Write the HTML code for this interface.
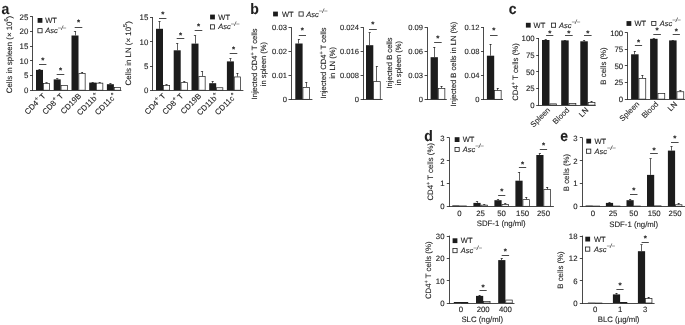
<!DOCTYPE html>
<html><head><meta charset="utf-8"><title>Figure</title>
<style>
html,body{margin:0;padding:0;background:#fff;}
body{width:685px;height:325px;overflow:hidden;}
svg{display:block;}
svg text{text-rendering:geometricPrecision;font-family:"Liberation Sans",Arial,Helvetica,sans-serif;fill:#202020;stroke:#202020;stroke-width:0.1px;}
</style></head><body>
<svg width="685" height="325" viewBox="0 0 685 325">
<rect width="685" height="325" fill="#fff"/>
<text transform="translate(1.60 13.60) scale(1 1.08)" font-size="14" font-weight="bold">a</text>
<text transform="translate(250.20 13.60) scale(1 1.08)" font-size="14" font-weight="bold">b</text>
<text transform="translate(508.80 13.60) scale(1 1.08)" font-size="14" font-weight="bold">c</text>
<text transform="translate(424.20 140.90) scale(1 1.08)" font-size="14" font-weight="bold">d</text>
<text transform="translate(560.20 140.90) scale(1 1.08)" font-size="14" font-weight="bold">e</text>
<line x1="32.50" y1="16.30" x2="32.50" y2="90.60" stroke="#1c1c1c" stroke-width="0.8"/>
<line x1="32.20" y1="90.50" x2="121.40" y2="90.50" stroke="#1c1c1c" stroke-width="0.8"/>
<line x1="30.00" y1="16.50" x2="32.60" y2="16.50" stroke="#1c1c1c" stroke-width="0.8"/>
<text x="28.40" y="19.54" font-size="7.9" text-anchor="end">25</text>
<line x1="30.00" y1="31.50" x2="32.60" y2="31.50" stroke="#1c1c1c" stroke-width="0.8"/>
<text x="28.40" y="34.24" font-size="7.9" text-anchor="end">20</text>
<line x1="30.00" y1="46.50" x2="32.60" y2="46.50" stroke="#1c1c1c" stroke-width="0.8"/>
<text x="28.40" y="48.94" font-size="7.9" text-anchor="end">15</text>
<line x1="30.00" y1="60.50" x2="32.60" y2="60.50" stroke="#1c1c1c" stroke-width="0.8"/>
<text x="28.40" y="63.64" font-size="7.9" text-anchor="end">10</text>
<line x1="30.00" y1="75.50" x2="32.60" y2="75.50" stroke="#1c1c1c" stroke-width="0.8"/>
<text x="28.40" y="78.34" font-size="7.9" text-anchor="end">5</text>
<line x1="30.00" y1="90.50" x2="32.60" y2="90.50" stroke="#1c1c1c" stroke-width="0.8"/>
<text x="28.40" y="93.04" font-size="7.9" text-anchor="end">0</text>
<rect x="36.00" y="69.90" width="7.00" height="20.30" fill="#1c1c1c"/>
<line x1="39.50" y1="69.30" x2="39.50" y2="69.90" stroke="#1c1c1c" stroke-width="0.7"/>
<line x1="38.40" y1="69.50" x2="40.60" y2="69.50" stroke="#1c1c1c" stroke-width="0.7"/>
<rect x="43.35" y="83.55" width="6.30" height="6.65" fill="#fff" stroke="#1c1c1c" stroke-width="0.7"/>
<line x1="46.50" y1="82.80" x2="46.50" y2="83.20" stroke="#1c1c1c" stroke-width="0.7"/>
<line x1="45.40" y1="82.50" x2="47.60" y2="82.50" stroke="#1c1c1c" stroke-width="0.7"/>
<rect x="53.70" y="79.40" width="7.00" height="10.80" fill="#1c1c1c"/>
<line x1="57.50" y1="78.80" x2="57.50" y2="79.40" stroke="#1c1c1c" stroke-width="0.7"/>
<line x1="56.10" y1="78.50" x2="58.30" y2="78.50" stroke="#1c1c1c" stroke-width="0.7"/>
<rect x="61.05" y="85.45" width="6.30" height="4.75" fill="#fff" stroke="#1c1c1c" stroke-width="0.7"/>
<rect x="71.50" y="35.50" width="7.00" height="54.70" fill="#1c1c1c"/>
<line x1="75.50" y1="31.30" x2="75.50" y2="35.50" stroke="#1c1c1c" stroke-width="0.7"/>
<line x1="73.90" y1="31.50" x2="76.10" y2="31.50" stroke="#1c1c1c" stroke-width="0.7"/>
<rect x="78.85" y="73.45" width="6.30" height="16.75" fill="#fff" stroke="#1c1c1c" stroke-width="0.7"/>
<line x1="82.50" y1="72.00" x2="82.50" y2="73.10" stroke="#1c1c1c" stroke-width="0.7"/>
<line x1="80.90" y1="72.50" x2="83.10" y2="72.50" stroke="#1c1c1c" stroke-width="0.7"/>
<rect x="89.20" y="82.60" width="7.00" height="7.60" fill="#1c1c1c"/>
<line x1="92.50" y1="82.10" x2="92.50" y2="82.60" stroke="#1c1c1c" stroke-width="0.7"/>
<line x1="91.60" y1="82.50" x2="93.80" y2="82.50" stroke="#1c1c1c" stroke-width="0.7"/>
<rect x="96.55" y="83.15" width="6.30" height="7.05" fill="#fff" stroke="#1c1c1c" stroke-width="0.7"/>
<line x1="99.50" y1="82.30" x2="99.50" y2="82.80" stroke="#1c1c1c" stroke-width="0.7"/>
<line x1="98.60" y1="82.50" x2="100.80" y2="82.50" stroke="#1c1c1c" stroke-width="0.7"/>
<rect x="106.90" y="84.20" width="7.00" height="6.00" fill="#1c1c1c"/>
<line x1="110.50" y1="83.50" x2="110.50" y2="84.20" stroke="#1c1c1c" stroke-width="0.7"/>
<line x1="109.30" y1="83.50" x2="111.50" y2="83.50" stroke="#1c1c1c" stroke-width="0.7"/>
<rect x="114.25" y="87.55" width="6.30" height="2.65" fill="#fff" stroke="#1c1c1c" stroke-width="0.7"/>
<line x1="39.00" y1="64.50" x2="46.40" y2="64.50" stroke="#1c1c1c" stroke-width="0.8"/>
<text x="42.70" y="63.10" font-size="8.0" text-anchor="middle" font-weight="bold">*</text>
<line x1="56.70" y1="74.50" x2="64.30" y2="74.50" stroke="#1c1c1c" stroke-width="0.8"/>
<text x="60.50" y="73.00" font-size="8.0" text-anchor="middle" font-weight="bold">*</text>
<line x1="74.70" y1="27.50" x2="82.30" y2="27.50" stroke="#1c1c1c" stroke-width="0.8"/>
<text x="78.50" y="25.40" font-size="8.0" text-anchor="middle" font-weight="bold">*</text>
<rect x="37.60" y="18.00" width="4.8" height="4.8" fill="#1c1c1c"/>
<text x="45.20" y="22.90" font-size="7.5" text-anchor="start">WT</text>
<rect x="37.90" y="28.60" width="4.20" height="4.20" fill="#fff" stroke="#1c1c1c" stroke-width="0.8"/>
<text x="45.20" y="33.20" font-size="7.5" text-anchor="start"><tspan font-style="italic">Asc</tspan><tspan dy="-3.60" font-size="6.00" font-style="italic">&#8722;/&#8722;</tspan></text>
<text x="11.54" y="54.50" font-size="7.9" text-anchor="middle" transform="rotate(-90 11.54 54.50)">Cells in spleen (&#215; 10<tspan dy="-3.48" font-size="5.69">6</tspan><tspan dy="3.48" font-size="5.69">&#8203;</tspan>)</text>
<text x="46.20" y="96.50" font-size="7.9" text-anchor="end" transform="rotate(-45 46.20 96.50)">CD4<tspan dy="-3.48" font-size="5.69">+</tspan><tspan dy="3.48" font-size="5.69">&#8203;</tspan> T</text>
<text x="63.90" y="96.50" font-size="7.9" text-anchor="end" transform="rotate(-45 63.90 96.50)">CD8<tspan dy="-3.48" font-size="5.69">+</tspan><tspan dy="3.48" font-size="5.69">&#8203;</tspan> T</text>
<text x="81.70" y="96.50" font-size="7.9" text-anchor="end" transform="rotate(-45 81.70 96.50)">CD19B</text>
<text x="99.40" y="96.50" font-size="7.9" text-anchor="end" transform="rotate(-45 99.40 96.50)">CD11b<tspan dy="-3.48" font-size="5.69">+</tspan><tspan dy="3.48" font-size="5.69">&#8203;</tspan></text>
<text x="117.10" y="96.50" font-size="7.9" text-anchor="end" transform="rotate(-45 117.10 96.50)">CD11c<tspan dy="-3.48" font-size="5.69">+</tspan><tspan dy="3.48" font-size="5.69">&#8203;</tspan></text>
<line x1="152.50" y1="17.10" x2="152.50" y2="90.60" stroke="#1c1c1c" stroke-width="0.8"/>
<line x1="152.20" y1="90.50" x2="243.40" y2="90.50" stroke="#1c1c1c" stroke-width="0.8"/>
<line x1="150.00" y1="17.50" x2="152.60" y2="17.50" stroke="#1c1c1c" stroke-width="0.8"/>
<text x="148.40" y="20.34" font-size="7.9" text-anchor="end">15</text>
<line x1="150.00" y1="41.50" x2="152.60" y2="41.50" stroke="#1c1c1c" stroke-width="0.8"/>
<text x="148.40" y="44.54" font-size="7.9" text-anchor="end">10</text>
<line x1="150.00" y1="66.50" x2="152.60" y2="66.50" stroke="#1c1c1c" stroke-width="0.8"/>
<text x="148.40" y="68.84" font-size="7.9" text-anchor="end">5</text>
<line x1="150.00" y1="90.50" x2="152.60" y2="90.50" stroke="#1c1c1c" stroke-width="0.8"/>
<text x="148.40" y="93.04" font-size="7.9" text-anchor="end">0</text>
<rect x="156.00" y="28.80" width="7.00" height="61.40" fill="#1c1c1c"/>
<line x1="159.50" y1="21.30" x2="159.50" y2="28.80" stroke="#1c1c1c" stroke-width="0.7"/>
<line x1="158.40" y1="21.50" x2="160.60" y2="21.50" stroke="#1c1c1c" stroke-width="0.7"/>
<rect x="163.35" y="85.45" width="6.30" height="4.75" fill="#fff" stroke="#1c1c1c" stroke-width="0.7"/>
<line x1="166.50" y1="84.50" x2="166.50" y2="85.10" stroke="#1c1c1c" stroke-width="0.7"/>
<line x1="165.40" y1="84.50" x2="167.60" y2="84.50" stroke="#1c1c1c" stroke-width="0.7"/>
<rect x="173.70" y="50.30" width="7.00" height="39.90" fill="#1c1c1c"/>
<line x1="177.50" y1="43.30" x2="177.50" y2="50.30" stroke="#1c1c1c" stroke-width="0.7"/>
<line x1="176.10" y1="43.50" x2="178.30" y2="43.50" stroke="#1c1c1c" stroke-width="0.7"/>
<rect x="181.05" y="82.65" width="6.30" height="7.55" fill="#fff" stroke="#1c1c1c" stroke-width="0.7"/>
<line x1="184.50" y1="81.50" x2="184.50" y2="82.30" stroke="#1c1c1c" stroke-width="0.7"/>
<line x1="183.10" y1="81.50" x2="185.30" y2="81.50" stroke="#1c1c1c" stroke-width="0.7"/>
<rect x="191.50" y="43.60" width="7.00" height="46.60" fill="#1c1c1c"/>
<line x1="195.50" y1="35.70" x2="195.50" y2="43.60" stroke="#1c1c1c" stroke-width="0.7"/>
<line x1="193.90" y1="35.50" x2="196.10" y2="35.50" stroke="#1c1c1c" stroke-width="0.7"/>
<rect x="198.85" y="76.55" width="6.30" height="13.65" fill="#fff" stroke="#1c1c1c" stroke-width="0.7"/>
<line x1="202.50" y1="71.30" x2="202.50" y2="76.20" stroke="#1c1c1c" stroke-width="0.7"/>
<line x1="200.90" y1="71.50" x2="203.10" y2="71.50" stroke="#1c1c1c" stroke-width="0.7"/>
<rect x="209.20" y="83.20" width="7.00" height="7.00" fill="#1c1c1c"/>
<line x1="212.50" y1="81.30" x2="212.50" y2="83.20" stroke="#1c1c1c" stroke-width="0.7"/>
<line x1="211.60" y1="81.50" x2="213.80" y2="81.50" stroke="#1c1c1c" stroke-width="0.7"/>
<rect x="216.55" y="87.75" width="6.30" height="2.45" fill="#fff" stroke="#1c1c1c" stroke-width="0.7"/>
<rect x="226.90" y="61.40" width="7.00" height="28.80" fill="#1c1c1c"/>
<line x1="230.50" y1="58.50" x2="230.50" y2="61.40" stroke="#1c1c1c" stroke-width="0.7"/>
<line x1="229.30" y1="58.50" x2="231.50" y2="58.50" stroke="#1c1c1c" stroke-width="0.7"/>
<rect x="234.25" y="76.95" width="6.30" height="13.25" fill="#fff" stroke="#1c1c1c" stroke-width="0.7"/>
<line x1="237.50" y1="73.10" x2="237.50" y2="76.60" stroke="#1c1c1c" stroke-width="0.7"/>
<line x1="236.30" y1="73.50" x2="238.50" y2="73.50" stroke="#1c1c1c" stroke-width="0.7"/>
<line x1="159.00" y1="18.50" x2="166.40" y2="18.50" stroke="#1c1c1c" stroke-width="0.8"/>
<text x="162.70" y="17.30" font-size="8.0" text-anchor="middle" font-weight="bold">*</text>
<line x1="176.70" y1="38.50" x2="184.30" y2="38.50" stroke="#1c1c1c" stroke-width="0.8"/>
<text x="180.50" y="37.80" font-size="8.0" text-anchor="middle" font-weight="bold">*</text>
<line x1="194.70" y1="30.50" x2="202.30" y2="30.50" stroke="#1c1c1c" stroke-width="0.8"/>
<text x="198.50" y="29.00" font-size="8.0" text-anchor="middle" font-weight="bold">*</text>
<line x1="229.70" y1="53.50" x2="237.30" y2="53.50" stroke="#1c1c1c" stroke-width="0.8"/>
<text x="233.50" y="52.40" font-size="8.0" text-anchor="middle" font-weight="bold">*</text>
<rect x="210.10" y="14.60" width="4.8" height="4.8" fill="#1c1c1c"/>
<text x="218.30" y="19.50" font-size="7.5" text-anchor="start">WT</text>
<rect x="210.40" y="24.80" width="4.20" height="4.20" fill="#fff" stroke="#1c1c1c" stroke-width="0.8"/>
<text x="218.30" y="29.40" font-size="7.5" text-anchor="start"><tspan font-style="italic">Asc</tspan><tspan dy="-3.60" font-size="6.00" font-style="italic">&#8722;/&#8722;</tspan></text>
<text x="130.94" y="53.30" font-size="7.9" text-anchor="middle" transform="rotate(-90 130.94 53.30)">Cells in LN (&#215; 10<tspan dy="-3.48" font-size="5.69">5</tspan><tspan dy="3.48" font-size="5.69">&#8203;</tspan>)</text>
<text x="166.20" y="96.50" font-size="7.9" text-anchor="end" transform="rotate(-45 166.20 96.50)">CD4<tspan dy="-3.48" font-size="5.69">+</tspan><tspan dy="3.48" font-size="5.69">&#8203;</tspan> T</text>
<text x="183.90" y="96.50" font-size="7.9" text-anchor="end" transform="rotate(-45 183.90 96.50)">CD8<tspan dy="-3.48" font-size="5.69">+</tspan><tspan dy="3.48" font-size="5.69">&#8203;</tspan> T</text>
<text x="201.70" y="96.50" font-size="7.9" text-anchor="end" transform="rotate(-45 201.70 96.50)">CD19B</text>
<text x="219.40" y="96.50" font-size="7.9" text-anchor="end" transform="rotate(-45 219.40 96.50)">CD11b<tspan dy="-3.48" font-size="5.69">+</tspan><tspan dy="3.48" font-size="5.69">&#8203;</tspan></text>
<text x="237.10" y="96.50" font-size="7.9" text-anchor="end" transform="rotate(-45 237.10 96.50)">CD11c<tspan dy="-3.48" font-size="5.69">+</tspan><tspan dy="3.48" font-size="5.69">&#8203;</tspan></text>
<rect x="273.10" y="11.60" width="4.8" height="4.8" fill="#1c1c1c"/>
<text x="282.00" y="16.50" font-size="7.5" text-anchor="start">WT</text>
<rect x="299.00" y="11.90" width="4.20" height="4.20" fill="#fff" stroke="#1c1c1c" stroke-width="0.8"/>
<text x="306.30" y="16.50" font-size="7.5" text-anchor="start"><tspan font-style="italic">Asc</tspan><tspan dy="-3.60" font-size="6.00" font-style="italic">&#8722;/&#8722;</tspan></text>
<line x1="291.50" y1="27.10" x2="291.50" y2="99.70" stroke="#1c1c1c" stroke-width="0.8"/>
<line x1="290.70" y1="99.50" x2="312.40" y2="99.50" stroke="#1c1c1c" stroke-width="0.8"/>
<line x1="288.50" y1="27.50" x2="291.10" y2="27.50" stroke="#1c1c1c" stroke-width="0.8"/>
<text x="286.90" y="30.24" font-size="7.6" text-anchor="end">0.03</text>
<line x1="288.50" y1="51.50" x2="291.10" y2="51.50" stroke="#1c1c1c" stroke-width="0.8"/>
<text x="286.90" y="54.14" font-size="7.6" text-anchor="end">0.02</text>
<line x1="288.50" y1="75.50" x2="291.10" y2="75.50" stroke="#1c1c1c" stroke-width="0.8"/>
<text x="286.90" y="78.04" font-size="7.6" text-anchor="end">0.01</text>
<line x1="288.50" y1="99.50" x2="291.10" y2="99.50" stroke="#1c1c1c" stroke-width="0.8"/>
<text x="286.90" y="102.04" font-size="7.6" text-anchor="end">0</text>
<rect x="295.30" y="43.50" width="7.30" height="55.80" fill="#1c1c1c"/>
<line x1="298.50" y1="39.30" x2="298.50" y2="43.50" stroke="#1c1c1c" stroke-width="0.7"/>
<line x1="297.85" y1="39.50" x2="300.05" y2="39.50" stroke="#1c1c1c" stroke-width="0.7"/>
<rect x="302.95" y="87.35" width="6.60" height="11.95" fill="#fff" stroke="#1c1c1c" stroke-width="0.7"/>
<line x1="306.50" y1="82.30" x2="306.50" y2="87.00" stroke="#1c1c1c" stroke-width="0.7"/>
<line x1="305.15" y1="82.50" x2="307.35" y2="82.50" stroke="#1c1c1c" stroke-width="0.7"/>
<line x1="298.80" y1="35.50" x2="306.00" y2="35.50" stroke="#1c1c1c" stroke-width="0.8"/>
<text x="302.40" y="33.40" font-size="8.0" text-anchor="middle" font-weight="bold">*</text>
<text x="256.94" y="64.00" font-size="7.6" text-anchor="middle" transform="rotate(-90 256.94 64.00)">Injected CD4<tspan dy="-3.34" font-size="5.47">+</tspan><tspan dy="3.34" font-size="5.47">&#8203;</tspan> T cells</text>
<text x="265.64" y="64.00" font-size="7.6" text-anchor="middle" transform="rotate(-90 265.64 64.00)">in spleen (%)</text>
<line x1="363.50" y1="27.10" x2="363.50" y2="99.70" stroke="#1c1c1c" stroke-width="0.8"/>
<line x1="362.80" y1="99.50" x2="382.60" y2="99.50" stroke="#1c1c1c" stroke-width="0.8"/>
<line x1="360.60" y1="27.50" x2="363.20" y2="27.50" stroke="#1c1c1c" stroke-width="0.8"/>
<text x="359.00" y="30.24" font-size="7.6" text-anchor="end">0.024</text>
<line x1="360.60" y1="51.50" x2="363.20" y2="51.50" stroke="#1c1c1c" stroke-width="0.8"/>
<text x="359.00" y="54.14" font-size="7.6" text-anchor="end">0.016</text>
<line x1="360.60" y1="75.50" x2="363.20" y2="75.50" stroke="#1c1c1c" stroke-width="0.8"/>
<text x="359.00" y="78.04" font-size="7.6" text-anchor="end">0.008</text>
<line x1="360.60" y1="99.50" x2="363.20" y2="99.50" stroke="#1c1c1c" stroke-width="0.8"/>
<text x="359.00" y="102.04" font-size="7.6" text-anchor="end">0</text>
<rect x="366.00" y="45.20" width="7.30" height="54.10" fill="#1c1c1c"/>
<line x1="369.50" y1="32.60" x2="369.50" y2="45.20" stroke="#1c1c1c" stroke-width="0.7"/>
<line x1="368.55" y1="32.50" x2="370.75" y2="32.50" stroke="#1c1c1c" stroke-width="0.7"/>
<rect x="373.65" y="81.65" width="6.60" height="17.65" fill="#fff" stroke="#1c1c1c" stroke-width="0.7"/>
<line x1="376.50" y1="66.10" x2="376.50" y2="81.30" stroke="#1c1c1c" stroke-width="0.7"/>
<line x1="375.85" y1="66.50" x2="378.05" y2="66.50" stroke="#1c1c1c" stroke-width="0.7"/>
<line x1="369.00" y1="29.50" x2="376.80" y2="29.50" stroke="#1c1c1c" stroke-width="0.8"/>
<text x="372.90" y="27.10" font-size="8.0" text-anchor="middle" font-weight="bold">*</text>
<text x="326.24" y="63.00" font-size="7.6" text-anchor="middle" transform="rotate(-90 326.24 63.00)">Injected CD4<tspan dy="-3.34" font-size="5.47">+</tspan><tspan dy="3.34" font-size="5.47">&#8203;</tspan> T cells</text>
<text x="334.94" y="62.80" font-size="7.6" text-anchor="middle" transform="rotate(-90 334.94 62.80)">in LN (%)</text>
<line x1="427.50" y1="27.10" x2="427.50" y2="99.70" stroke="#1c1c1c" stroke-width="0.8"/>
<line x1="426.80" y1="99.50" x2="446.80" y2="99.50" stroke="#1c1c1c" stroke-width="0.8"/>
<line x1="424.60" y1="27.50" x2="427.20" y2="27.50" stroke="#1c1c1c" stroke-width="0.8"/>
<text x="423.00" y="30.24" font-size="7.6" text-anchor="end">0.09</text>
<line x1="424.60" y1="51.50" x2="427.20" y2="51.50" stroke="#1c1c1c" stroke-width="0.8"/>
<text x="423.00" y="54.14" font-size="7.6" text-anchor="end">0.06</text>
<line x1="424.60" y1="75.50" x2="427.20" y2="75.50" stroke="#1c1c1c" stroke-width="0.8"/>
<text x="423.00" y="78.04" font-size="7.6" text-anchor="end">0.03</text>
<line x1="424.60" y1="99.50" x2="427.20" y2="99.50" stroke="#1c1c1c" stroke-width="0.8"/>
<text x="423.00" y="102.04" font-size="7.6" text-anchor="end">0</text>
<rect x="430.60" y="57.20" width="7.30" height="42.10" fill="#1c1c1c"/>
<line x1="434.50" y1="47.00" x2="434.50" y2="57.20" stroke="#1c1c1c" stroke-width="0.7"/>
<line x1="433.15" y1="47.50" x2="435.35" y2="47.50" stroke="#1c1c1c" stroke-width="0.7"/>
<rect x="438.25" y="88.35" width="6.60" height="10.95" fill="#fff" stroke="#1c1c1c" stroke-width="0.7"/>
<line x1="441.50" y1="86.00" x2="441.50" y2="88.00" stroke="#1c1c1c" stroke-width="0.7"/>
<line x1="440.45" y1="86.50" x2="442.65" y2="86.50" stroke="#1c1c1c" stroke-width="0.7"/>
<line x1="434.10" y1="42.50" x2="441.70" y2="42.50" stroke="#1c1c1c" stroke-width="0.8"/>
<text x="437.90" y="40.60" font-size="8.0" text-anchor="middle" font-weight="bold">*</text>
<text x="391.74" y="63.00" font-size="7.6" text-anchor="middle" transform="rotate(-90 391.74 63.00)">Injected B cells</text>
<text x="401.14" y="63.00" font-size="7.6" text-anchor="middle" transform="rotate(-90 401.14 63.00)">in spleen (%)</text>
<line x1="483.50" y1="27.10" x2="483.50" y2="99.70" stroke="#1c1c1c" stroke-width="0.8"/>
<line x1="483.20" y1="99.50" x2="503.00" y2="99.50" stroke="#1c1c1c" stroke-width="0.8"/>
<line x1="481.00" y1="27.50" x2="483.60" y2="27.50" stroke="#1c1c1c" stroke-width="0.8"/>
<text x="479.40" y="30.24" font-size="7.6" text-anchor="end">0.12</text>
<line x1="481.00" y1="51.50" x2="483.60" y2="51.50" stroke="#1c1c1c" stroke-width="0.8"/>
<text x="479.40" y="54.14" font-size="7.6" text-anchor="end">0.08</text>
<line x1="481.00" y1="75.50" x2="483.60" y2="75.50" stroke="#1c1c1c" stroke-width="0.8"/>
<text x="479.40" y="78.04" font-size="7.6" text-anchor="end">0.04</text>
<line x1="481.00" y1="99.50" x2="483.60" y2="99.50" stroke="#1c1c1c" stroke-width="0.8"/>
<text x="479.40" y="102.04" font-size="7.6" text-anchor="end">0</text>
<rect x="486.90" y="55.70" width="7.30" height="43.60" fill="#1c1c1c"/>
<line x1="490.50" y1="44.00" x2="490.50" y2="55.70" stroke="#1c1c1c" stroke-width="0.7"/>
<line x1="489.45" y1="44.50" x2="491.65" y2="44.50" stroke="#1c1c1c" stroke-width="0.7"/>
<rect x="494.55" y="90.55" width="6.60" height="8.75" fill="#fff" stroke="#1c1c1c" stroke-width="0.7"/>
<line x1="497.50" y1="88.00" x2="497.50" y2="90.20" stroke="#1c1c1c" stroke-width="0.7"/>
<line x1="496.75" y1="88.50" x2="498.95" y2="88.50" stroke="#1c1c1c" stroke-width="0.7"/>
<line x1="490.00" y1="35.50" x2="497.60" y2="35.50" stroke="#1c1c1c" stroke-width="0.8"/>
<text x="493.80" y="33.40" font-size="8.0" text-anchor="middle" font-weight="bold">*</text>
<text x="456.34" y="64.00" font-size="7.6" text-anchor="middle" transform="rotate(-90 456.34 64.00)">Injected B cells in LN (%)</text>
<line x1="538.50" y1="38.10" x2="538.50" y2="105.50" stroke="#1c1c1c" stroke-width="0.8"/>
<line x1="538.40" y1="105.50" x2="595.70" y2="105.50" stroke="#1c1c1c" stroke-width="0.8"/>
<line x1="536.20" y1="38.50" x2="538.80" y2="38.50" stroke="#1c1c1c" stroke-width="0.8"/>
<text x="534.60" y="41.31" font-size="7.8" text-anchor="end">100</text>
<line x1="536.20" y1="55.50" x2="538.80" y2="55.50" stroke="#1c1c1c" stroke-width="0.8"/>
<text x="534.60" y="58.01" font-size="7.8" text-anchor="end">75</text>
<line x1="536.20" y1="71.50" x2="538.80" y2="71.50" stroke="#1c1c1c" stroke-width="0.8"/>
<text x="534.60" y="74.61" font-size="7.8" text-anchor="end">50</text>
<line x1="536.20" y1="88.50" x2="538.80" y2="88.50" stroke="#1c1c1c" stroke-width="0.8"/>
<text x="534.60" y="91.21" font-size="7.8" text-anchor="end">25</text>
<line x1="536.20" y1="105.50" x2="538.80" y2="105.50" stroke="#1c1c1c" stroke-width="0.8"/>
<text x="534.60" y="107.91" font-size="7.8" text-anchor="end">0</text>
<rect x="542.00" y="40.00" width="7.50" height="65.10" fill="#1c1c1c"/>
<line x1="545.50" y1="39.60" x2="545.50" y2="40.00" stroke="#1c1c1c" stroke-width="0.7"/>
<line x1="544.65" y1="39.50" x2="546.85" y2="39.50" stroke="#1c1c1c" stroke-width="0.7"/>
<rect x="549.85" y="103.85" width="6.80" height="1.25" fill="#fff" stroke="#1c1c1c" stroke-width="0.7"/>
<rect x="561.20" y="40.40" width="7.50" height="64.70" fill="#1c1c1c"/>
<line x1="564.50" y1="40.00" x2="564.50" y2="40.40" stroke="#1c1c1c" stroke-width="0.7"/>
<line x1="563.85" y1="40.50" x2="566.05" y2="40.50" stroke="#1c1c1c" stroke-width="0.7"/>
<rect x="569.05" y="103.35" width="6.80" height="1.75" fill="#fff" stroke="#1c1c1c" stroke-width="0.7"/>
<rect x="580.30" y="41.30" width="7.50" height="63.80" fill="#1c1c1c"/>
<line x1="584.50" y1="40.50" x2="584.50" y2="41.30" stroke="#1c1c1c" stroke-width="0.7"/>
<line x1="582.95" y1="40.50" x2="585.15" y2="40.50" stroke="#1c1c1c" stroke-width="0.7"/>
<rect x="588.15" y="102.35" width="6.80" height="2.75" fill="#fff" stroke="#1c1c1c" stroke-width="0.7"/>
<line x1="591.50" y1="101.00" x2="591.50" y2="102.00" stroke="#1c1c1c" stroke-width="0.7"/>
<line x1="590.45" y1="101.50" x2="592.65" y2="101.50" stroke="#1c1c1c" stroke-width="0.7"/>
<line x1="546.10" y1="35.50" x2="553.30" y2="35.50" stroke="#1c1c1c" stroke-width="0.8"/>
<text x="549.70" y="35.70" font-size="8.0" text-anchor="middle" font-weight="bold">*</text>
<line x1="565.00" y1="35.50" x2="572.70" y2="35.50" stroke="#1c1c1c" stroke-width="0.8"/>
<text x="568.85" y="35.70" font-size="8.0" text-anchor="middle" font-weight="bold">*</text>
<line x1="584.00" y1="35.50" x2="591.60" y2="35.50" stroke="#1c1c1c" stroke-width="0.8"/>
<text x="587.80" y="35.70" font-size="8.0" text-anchor="middle" font-weight="bold">*</text>
<rect x="525.90" y="22.80" width="4.8" height="4.8" fill="#1c1c1c"/>
<text x="533.60" y="27.70" font-size="7.5" text-anchor="start">WT</text>
<rect x="551.40" y="23.10" width="4.20" height="4.20" fill="#fff" stroke="#1c1c1c" stroke-width="0.8"/>
<text x="559.10" y="27.70" font-size="7.5" text-anchor="start"><tspan font-style="italic">Asc</tspan><tspan dy="-3.60" font-size="6.00" font-style="italic">&#8722;/&#8722;</tspan></text>
<text x="518.31" y="72.00" font-size="7.8" text-anchor="middle" transform="rotate(-90 518.31 72.00)">CD4<tspan dy="-3.43" font-size="5.62">+</tspan><tspan dy="3.43" font-size="5.62">&#8203;</tspan> T cells (%)</text>
<text x="550.70" y="110.60" font-size="7.8" text-anchor="end" transform="rotate(-45 550.70 110.60)">Spleen</text>
<text x="569.90" y="110.60" font-size="7.8" text-anchor="end" transform="rotate(-45 569.90 110.60)">Blood</text>
<text x="589.00" y="110.60" font-size="7.8" text-anchor="end" transform="rotate(-45 589.00 110.60)">LN</text>
<line x1="627.50" y1="32.30" x2="627.50" y2="99.50" stroke="#1c1c1c" stroke-width="0.8"/>
<line x1="627.00" y1="99.50" x2="685.50" y2="99.50" stroke="#1c1c1c" stroke-width="0.8"/>
<line x1="624.80" y1="32.50" x2="627.40" y2="32.50" stroke="#1c1c1c" stroke-width="0.8"/>
<text x="623.20" y="35.51" font-size="7.8" text-anchor="end">100</text>
<line x1="624.80" y1="49.50" x2="627.40" y2="49.50" stroke="#1c1c1c" stroke-width="0.8"/>
<text x="623.20" y="52.11" font-size="7.8" text-anchor="end">75</text>
<line x1="624.80" y1="65.50" x2="627.40" y2="65.50" stroke="#1c1c1c" stroke-width="0.8"/>
<text x="623.20" y="68.71" font-size="7.8" text-anchor="end">50</text>
<line x1="624.80" y1="82.50" x2="627.40" y2="82.50" stroke="#1c1c1c" stroke-width="0.8"/>
<text x="623.20" y="85.31" font-size="7.8" text-anchor="end">25</text>
<line x1="624.80" y1="99.50" x2="627.40" y2="99.50" stroke="#1c1c1c" stroke-width="0.8"/>
<text x="623.20" y="101.91" font-size="7.8" text-anchor="end">0</text>
<rect x="631.10" y="54.30" width="7.50" height="44.80" fill="#1c1c1c"/>
<line x1="634.50" y1="51.10" x2="634.50" y2="54.30" stroke="#1c1c1c" stroke-width="0.7"/>
<line x1="633.75" y1="51.50" x2="635.95" y2="51.50" stroke="#1c1c1c" stroke-width="0.7"/>
<rect x="638.95" y="78.45" width="6.80" height="20.65" fill="#fff" stroke="#1c1c1c" stroke-width="0.7"/>
<line x1="642.50" y1="75.10" x2="642.50" y2="78.10" stroke="#1c1c1c" stroke-width="0.7"/>
<line x1="641.25" y1="75.50" x2="643.45" y2="75.50" stroke="#1c1c1c" stroke-width="0.7"/>
<rect x="650.10" y="38.80" width="7.50" height="60.30" fill="#1c1c1c"/>
<line x1="653.50" y1="38.40" x2="653.50" y2="38.80" stroke="#1c1c1c" stroke-width="0.7"/>
<line x1="652.75" y1="38.50" x2="654.95" y2="38.50" stroke="#1c1c1c" stroke-width="0.7"/>
<rect x="657.95" y="93.55" width="6.80" height="5.55" fill="#fff" stroke="#1c1c1c" stroke-width="0.7"/>
<rect x="669.10" y="40.40" width="7.50" height="58.70" fill="#1c1c1c"/>
<line x1="672.50" y1="40.00" x2="672.50" y2="40.40" stroke="#1c1c1c" stroke-width="0.7"/>
<line x1="671.75" y1="40.50" x2="673.95" y2="40.50" stroke="#1c1c1c" stroke-width="0.7"/>
<rect x="676.95" y="91.75" width="6.80" height="7.35" fill="#fff" stroke="#1c1c1c" stroke-width="0.7"/>
<line x1="680.50" y1="90.40" x2="680.50" y2="91.40" stroke="#1c1c1c" stroke-width="0.7"/>
<line x1="679.25" y1="90.50" x2="681.45" y2="90.50" stroke="#1c1c1c" stroke-width="0.7"/>
<line x1="634.90" y1="45.50" x2="642.10" y2="45.50" stroke="#1c1c1c" stroke-width="0.8"/>
<text x="638.50" y="44.60" font-size="8.0" text-anchor="middle" font-weight="bold">*</text>
<line x1="653.30" y1="34.50" x2="660.90" y2="34.50" stroke="#1c1c1c" stroke-width="0.8"/>
<text x="657.10" y="33.40" font-size="8.0" text-anchor="middle" font-weight="bold">*</text>
<line x1="672.70" y1="34.50" x2="679.90" y2="34.50" stroke="#1c1c1c" stroke-width="0.8"/>
<text x="676.30" y="33.80" font-size="8.0" text-anchor="middle" font-weight="bold">*</text>
<rect x="626.50" y="21.10" width="4.8" height="4.8" fill="#1c1c1c"/>
<text x="634.40" y="26.00" font-size="7.5" text-anchor="start">WT</text>
<rect x="651.70" y="21.40" width="4.20" height="4.20" fill="#fff" stroke="#1c1c1c" stroke-width="0.8"/>
<text x="659.70" y="26.00" font-size="7.5" text-anchor="start"><tspan font-style="italic">Asc</tspan><tspan dy="-3.60" font-size="6.00" font-style="italic">&#8722;/&#8722;</tspan></text>
<text x="605.81" y="66.00" font-size="7.8" text-anchor="middle" transform="rotate(-90 605.81 66.00)">B cells (%)</text>
<text x="639.80" y="104.70" font-size="7.8" text-anchor="end" transform="rotate(-45 639.80 104.70)">Spleen</text>
<text x="658.80" y="104.70" font-size="7.8" text-anchor="end" transform="rotate(-45 658.80 104.70)">Blood</text>
<text x="677.80" y="104.70" font-size="7.8" text-anchor="end" transform="rotate(-45 677.80 104.70)">LN</text>
<line x1="449.50" y1="137.50" x2="449.50" y2="206.70" stroke="#1c1c1c" stroke-width="0.8"/>
<line x1="449.00" y1="206.50" x2="553.90" y2="206.50" stroke="#1c1c1c" stroke-width="0.8"/>
<line x1="446.80" y1="137.50" x2="449.40" y2="137.50" stroke="#1c1c1c" stroke-width="0.8"/>
<text x="444.50" y="140.71" font-size="7.8" text-anchor="end">3</text>
<line x1="446.80" y1="160.50" x2="449.40" y2="160.50" stroke="#1c1c1c" stroke-width="0.8"/>
<text x="444.50" y="163.51" font-size="7.8" text-anchor="end">2</text>
<line x1="446.80" y1="183.50" x2="449.40" y2="183.50" stroke="#1c1c1c" stroke-width="0.8"/>
<text x="444.50" y="186.31" font-size="7.8" text-anchor="end">1</text>
<line x1="446.80" y1="206.50" x2="449.40" y2="206.50" stroke="#1c1c1c" stroke-width="0.8"/>
<text x="444.50" y="209.11" font-size="7.8" text-anchor="end">0</text>
<rect x="452.30" y="205.40" width="7.20" height="0.90" fill="#1c1c1c"/>
<rect x="459.85" y="205.95" width="6.50" height="0.35" fill="#fff" stroke="#1c1c1c" stroke-width="0.7"/>
<text x="459.50" y="215.80" font-size="7.8" text-anchor="middle">0</text>
<rect x="473.40" y="202.90" width="7.20" height="3.40" fill="#1c1c1c"/>
<line x1="477.50" y1="201.60" x2="477.50" y2="202.90" stroke="#1c1c1c" stroke-width="0.7"/>
<line x1="475.90" y1="201.50" x2="478.10" y2="201.50" stroke="#1c1c1c" stroke-width="0.7"/>
<rect x="480.95" y="205.15" width="6.50" height="1.15" fill="#fff" stroke="#1c1c1c" stroke-width="0.7"/>
<line x1="484.50" y1="204.20" x2="484.50" y2="204.80" stroke="#1c1c1c" stroke-width="0.7"/>
<line x1="483.10" y1="204.50" x2="485.30" y2="204.50" stroke="#1c1c1c" stroke-width="0.7"/>
<text x="480.60" y="215.80" font-size="7.8" text-anchor="middle">25</text>
<rect x="494.40" y="200.20" width="7.20" height="6.10" fill="#1c1c1c"/>
<line x1="498.50" y1="199.60" x2="498.50" y2="200.20" stroke="#1c1c1c" stroke-width="0.7"/>
<line x1="496.90" y1="199.50" x2="499.10" y2="199.50" stroke="#1c1c1c" stroke-width="0.7"/>
<rect x="501.95" y="204.35" width="6.50" height="1.95" fill="#fff" stroke="#1c1c1c" stroke-width="0.7"/>
<line x1="505.50" y1="203.40" x2="505.50" y2="204.00" stroke="#1c1c1c" stroke-width="0.7"/>
<line x1="504.10" y1="203.50" x2="506.30" y2="203.50" stroke="#1c1c1c" stroke-width="0.7"/>
<text x="501.60" y="215.80" font-size="7.8" text-anchor="middle">50</text>
<rect x="515.40" y="180.70" width="7.20" height="25.60" fill="#1c1c1c"/>
<line x1="519.50" y1="172.10" x2="519.50" y2="180.70" stroke="#1c1c1c" stroke-width="0.7"/>
<line x1="517.90" y1="172.50" x2="520.10" y2="172.50" stroke="#1c1c1c" stroke-width="0.7"/>
<rect x="522.95" y="199.65" width="6.50" height="6.65" fill="#fff" stroke="#1c1c1c" stroke-width="0.7"/>
<line x1="526.50" y1="197.20" x2="526.50" y2="199.30" stroke="#1c1c1c" stroke-width="0.7"/>
<line x1="525.10" y1="197.50" x2="527.30" y2="197.50" stroke="#1c1c1c" stroke-width="0.7"/>
<text x="522.60" y="215.80" font-size="7.8" text-anchor="middle">150</text>
<rect x="536.30" y="155.00" width="7.20" height="51.30" fill="#1c1c1c"/>
<line x1="539.50" y1="153.50" x2="539.50" y2="155.00" stroke="#1c1c1c" stroke-width="0.7"/>
<line x1="538.80" y1="153.50" x2="541.00" y2="153.50" stroke="#1c1c1c" stroke-width="0.7"/>
<rect x="543.85" y="189.55" width="6.50" height="16.75" fill="#fff" stroke="#1c1c1c" stroke-width="0.7"/>
<line x1="547.50" y1="187.00" x2="547.50" y2="189.20" stroke="#1c1c1c" stroke-width="0.7"/>
<line x1="546.00" y1="187.50" x2="548.20" y2="187.50" stroke="#1c1c1c" stroke-width="0.7"/>
<text x="543.50" y="215.80" font-size="7.8" text-anchor="middle">250</text>
<line x1="498.10" y1="195.50" x2="505.30" y2="195.50" stroke="#1c1c1c" stroke-width="0.8"/>
<text x="501.70" y="194.20" font-size="8.0" text-anchor="middle" font-weight="bold">*</text>
<line x1="518.90" y1="167.50" x2="526.20" y2="167.50" stroke="#1c1c1c" stroke-width="0.8"/>
<text x="522.55" y="167.00" font-size="8.0" text-anchor="middle" font-weight="bold">*</text>
<line x1="539.80" y1="149.50" x2="547.10" y2="149.50" stroke="#1c1c1c" stroke-width="0.8"/>
<text x="543.45" y="148.00" font-size="8.0" text-anchor="middle" font-weight="bold">*</text>
<rect x="454.70" y="137.20" width="4.8" height="4.8" fill="#1c1c1c"/>
<text x="462.70" y="142.10" font-size="7.5" text-anchor="start">WT</text>
<rect x="455.00" y="147.40" width="4.20" height="4.20" fill="#fff" stroke="#1c1c1c" stroke-width="0.8"/>
<text x="462.70" y="152.00" font-size="7.5" text-anchor="start"><tspan font-style="italic">Asc</tspan><tspan dy="-3.60" font-size="6.00" font-style="italic">&#8722;/&#8722;</tspan></text>
<text x="433.31" y="171.80" font-size="7.8" text-anchor="middle" transform="rotate(-90 433.31 171.80)">CD4<tspan dy="-3.43" font-size="5.62">+</tspan><tspan dy="3.43" font-size="5.62">&#8203;</tspan> T cells (%)</text>
<text x="501.20" y="225.90" font-size="7.8" text-anchor="middle">SDF-1 (ng/ml)</text>
<line x1="582.50" y1="137.50" x2="582.50" y2="206.70" stroke="#1c1c1c" stroke-width="0.8"/>
<line x1="582.00" y1="206.50" x2="685.50" y2="206.50" stroke="#1c1c1c" stroke-width="0.8"/>
<line x1="579.80" y1="137.50" x2="582.40" y2="137.50" stroke="#1c1c1c" stroke-width="0.8"/>
<text x="577.50" y="140.71" font-size="7.8" text-anchor="end">3</text>
<line x1="579.80" y1="160.50" x2="582.40" y2="160.50" stroke="#1c1c1c" stroke-width="0.8"/>
<text x="577.50" y="163.51" font-size="7.8" text-anchor="end">2</text>
<line x1="579.80" y1="183.50" x2="582.40" y2="183.50" stroke="#1c1c1c" stroke-width="0.8"/>
<text x="577.50" y="186.31" font-size="7.8" text-anchor="end">1</text>
<line x1="579.80" y1="206.50" x2="582.40" y2="206.50" stroke="#1c1c1c" stroke-width="0.8"/>
<text x="577.50" y="209.11" font-size="7.8" text-anchor="end">0</text>
<rect x="585.60" y="205.50" width="7.20" height="0.80" fill="#1c1c1c"/>
<rect x="593.15" y="206.05" width="6.50" height="0.25" fill="#fff" stroke="#1c1c1c" stroke-width="0.7"/>
<text x="592.80" y="215.80" font-size="7.8" text-anchor="middle">0</text>
<rect x="605.90" y="202.90" width="7.20" height="3.40" fill="#1c1c1c"/>
<line x1="609.50" y1="202.20" x2="609.50" y2="202.90" stroke="#1c1c1c" stroke-width="0.7"/>
<line x1="608.40" y1="202.50" x2="610.60" y2="202.50" stroke="#1c1c1c" stroke-width="0.7"/>
<rect x="613.45" y="206.05" width="6.50" height="0.25" fill="#fff" stroke="#1c1c1c" stroke-width="0.7"/>
<text x="613.10" y="215.80" font-size="7.8" text-anchor="middle">25</text>
<rect x="626.50" y="200.20" width="7.20" height="6.10" fill="#1c1c1c"/>
<line x1="630.50" y1="199.40" x2="630.50" y2="200.20" stroke="#1c1c1c" stroke-width="0.7"/>
<line x1="629.00" y1="199.50" x2="631.20" y2="199.50" stroke="#1c1c1c" stroke-width="0.7"/>
<rect x="634.05" y="206.05" width="6.50" height="0.25" fill="#fff" stroke="#1c1c1c" stroke-width="0.7"/>
<text x="633.70" y="215.80" font-size="7.8" text-anchor="middle">50</text>
<rect x="647.00" y="174.90" width="7.20" height="31.40" fill="#1c1c1c"/>
<line x1="650.50" y1="158.80" x2="650.50" y2="174.90" stroke="#1c1c1c" stroke-width="0.7"/>
<line x1="649.50" y1="158.50" x2="651.70" y2="158.50" stroke="#1c1c1c" stroke-width="0.7"/>
<rect x="654.55" y="205.85" width="6.50" height="0.45" fill="#fff" stroke="#1c1c1c" stroke-width="0.7"/>
<text x="654.20" y="215.80" font-size="7.8" text-anchor="middle">150</text>
<rect x="667.90" y="150.60" width="7.20" height="55.70" fill="#1c1c1c"/>
<line x1="671.50" y1="146.30" x2="671.50" y2="150.60" stroke="#1c1c1c" stroke-width="0.7"/>
<line x1="670.40" y1="146.50" x2="672.60" y2="146.50" stroke="#1c1c1c" stroke-width="0.7"/>
<rect x="675.45" y="204.75" width="6.50" height="1.55" fill="#fff" stroke="#1c1c1c" stroke-width="0.7"/>
<line x1="678.50" y1="203.10" x2="678.50" y2="204.40" stroke="#1c1c1c" stroke-width="0.7"/>
<line x1="677.60" y1="203.50" x2="679.80" y2="203.50" stroke="#1c1c1c" stroke-width="0.7"/>
<text x="675.10" y="215.80" font-size="7.8" text-anchor="middle">250</text>
<line x1="630.00" y1="194.50" x2="637.50" y2="194.50" stroke="#1c1c1c" stroke-width="0.8"/>
<text x="633.75" y="192.70" font-size="8.0" text-anchor="middle" font-weight="bold">*</text>
<line x1="650.10" y1="153.50" x2="657.80" y2="153.50" stroke="#1c1c1c" stroke-width="0.8"/>
<text x="653.95" y="152.70" font-size="8.0" text-anchor="middle" font-weight="bold">*</text>
<line x1="671.00" y1="142.50" x2="678.60" y2="142.50" stroke="#1c1c1c" stroke-width="0.8"/>
<text x="674.80" y="140.80" font-size="8.0" text-anchor="middle" font-weight="bold">*</text>
<rect x="586.30" y="138.70" width="4.8" height="4.8" fill="#1c1c1c"/>
<text x="594.50" y="143.60" font-size="7.5" text-anchor="start">WT</text>
<rect x="586.60" y="149.10" width="4.20" height="4.20" fill="#fff" stroke="#1c1c1c" stroke-width="0.8"/>
<text x="594.50" y="153.70" font-size="7.5" text-anchor="start"><tspan font-style="italic">Asc</tspan><tspan dy="-3.60" font-size="6.00" font-style="italic">&#8722;/&#8722;</tspan></text>
<text x="568.61" y="172.50" font-size="7.8" text-anchor="middle" transform="rotate(-90 568.61 172.50)">B cells (%)</text>
<text x="633.70" y="226.60" font-size="7.8" text-anchor="middle">SDF-1 (ng/ml)</text>
<line x1="449.50" y1="235.60" x2="449.50" y2="303.40" stroke="#1c1c1c" stroke-width="0.8"/>
<line x1="449.00" y1="303.50" x2="514.50" y2="303.50" stroke="#1c1c1c" stroke-width="0.8"/>
<line x1="446.80" y1="236.50" x2="449.40" y2="236.50" stroke="#1c1c1c" stroke-width="0.8"/>
<text x="444.50" y="238.81" font-size="7.8" text-anchor="end">30</text>
<line x1="446.80" y1="258.50" x2="449.40" y2="258.50" stroke="#1c1c1c" stroke-width="0.8"/>
<text x="444.50" y="261.11" font-size="7.8" text-anchor="end">20</text>
<line x1="446.80" y1="280.50" x2="449.40" y2="280.50" stroke="#1c1c1c" stroke-width="0.8"/>
<text x="444.50" y="283.51" font-size="7.8" text-anchor="end">10</text>
<line x1="446.80" y1="303.50" x2="449.40" y2="303.50" stroke="#1c1c1c" stroke-width="0.8"/>
<text x="444.50" y="305.81" font-size="7.8" text-anchor="end">0</text>
<rect x="453.80" y="302.00" width="7.20" height="1.00" fill="#1c1c1c"/>
<rect x="461.35" y="302.55" width="6.50" height="0.45" fill="#fff" stroke="#1c1c1c" stroke-width="0.7"/>
<text x="461.00" y="312.00" font-size="7.8" text-anchor="middle">0</text>
<rect x="476.00" y="295.90" width="7.20" height="7.10" fill="#1c1c1c"/>
<line x1="479.50" y1="295.00" x2="479.50" y2="295.90" stroke="#1c1c1c" stroke-width="0.7"/>
<line x1="478.50" y1="295.50" x2="480.70" y2="295.50" stroke="#1c1c1c" stroke-width="0.7"/>
<rect x="483.55" y="301.45" width="6.50" height="1.55" fill="#fff" stroke="#1c1c1c" stroke-width="0.7"/>
<text x="483.20" y="312.00" font-size="7.8" text-anchor="middle">200</text>
<rect x="498.20" y="260.10" width="7.20" height="42.90" fill="#1c1c1c"/>
<line x1="501.50" y1="258.20" x2="501.50" y2="260.10" stroke="#1c1c1c" stroke-width="0.7"/>
<line x1="500.70" y1="258.50" x2="502.90" y2="258.50" stroke="#1c1c1c" stroke-width="0.7"/>
<rect x="505.75" y="300.05" width="6.50" height="2.95" fill="#fff" stroke="#1c1c1c" stroke-width="0.7"/>
<text x="505.40" y="312.00" font-size="7.8" text-anchor="middle">400</text>
<line x1="479.50" y1="290.50" x2="486.70" y2="290.50" stroke="#1c1c1c" stroke-width="0.8"/>
<text x="483.10" y="289.50" font-size="8.0" text-anchor="middle" font-weight="bold">*</text>
<line x1="501.70" y1="255.50" x2="509.10" y2="255.50" stroke="#1c1c1c" stroke-width="0.8"/>
<text x="505.40" y="253.70" font-size="8.0" text-anchor="middle" font-weight="bold">*</text>
<rect x="452.60" y="238.30" width="4.8" height="4.8" fill="#1c1c1c"/>
<text x="460.80" y="243.20" font-size="7.5" text-anchor="start">WT</text>
<rect x="452.90" y="248.50" width="4.20" height="4.20" fill="#fff" stroke="#1c1c1c" stroke-width="0.8"/>
<text x="460.80" y="253.10" font-size="7.5" text-anchor="start"><tspan font-style="italic">Asc</tspan><tspan dy="-3.60" font-size="6.00" font-style="italic">&#8722;/&#8722;</tspan></text>
<text x="431.41" y="270.30" font-size="7.8" text-anchor="middle" transform="rotate(-90 431.41 270.30)">CD4<tspan dy="-3.43" font-size="5.62">+</tspan><tspan dy="3.43" font-size="5.62">&#8203;</tspan> T cells (%)</text>
<text x="482.20" y="322.00" font-size="7.8" text-anchor="middle">SLC (ng/ml)</text>
<line x1="582.50" y1="235.60" x2="582.50" y2="303.40" stroke="#1c1c1c" stroke-width="0.8"/>
<line x1="582.00" y1="303.50" x2="654.60" y2="303.50" stroke="#1c1c1c" stroke-width="0.8"/>
<line x1="579.80" y1="236.50" x2="582.40" y2="236.50" stroke="#1c1c1c" stroke-width="0.8"/>
<text x="577.50" y="238.81" font-size="7.8" text-anchor="end">18</text>
<line x1="579.80" y1="258.50" x2="582.40" y2="258.50" stroke="#1c1c1c" stroke-width="0.8"/>
<text x="577.50" y="261.11" font-size="7.8" text-anchor="end">12</text>
<line x1="579.80" y1="280.50" x2="582.40" y2="280.50" stroke="#1c1c1c" stroke-width="0.8"/>
<text x="577.50" y="283.51" font-size="7.8" text-anchor="end">6</text>
<line x1="579.80" y1="303.50" x2="582.40" y2="303.50" stroke="#1c1c1c" stroke-width="0.8"/>
<text x="577.50" y="305.81" font-size="7.8" text-anchor="end">0</text>
<rect x="587.90" y="302.60" width="7.20" height="0.40" fill="#1c1c1c"/>
<rect x="595.45" y="303.05" width="6.50" height="0.10" fill="#fff" stroke="#1c1c1c" stroke-width="0.7"/>
<text x="595.10" y="312.00" font-size="7.8" text-anchor="middle">0</text>
<rect x="612.90" y="294.40" width="7.20" height="8.60" fill="#1c1c1c"/>
<line x1="616.50" y1="293.00" x2="616.50" y2="294.40" stroke="#1c1c1c" stroke-width="0.7"/>
<line x1="615.40" y1="293.50" x2="617.60" y2="293.50" stroke="#1c1c1c" stroke-width="0.7"/>
<rect x="620.45" y="302.55" width="6.50" height="0.45" fill="#fff" stroke="#1c1c1c" stroke-width="0.7"/>
<text x="620.10" y="312.00" font-size="7.8" text-anchor="middle">1</text>
<rect x="637.90" y="251.20" width="7.20" height="51.80" fill="#1c1c1c"/>
<line x1="641.50" y1="244.90" x2="641.50" y2="251.20" stroke="#1c1c1c" stroke-width="0.7"/>
<line x1="640.40" y1="244.50" x2="642.60" y2="244.50" stroke="#1c1c1c" stroke-width="0.7"/>
<rect x="645.45" y="298.55" width="6.50" height="4.45" fill="#fff" stroke="#1c1c1c" stroke-width="0.7"/>
<line x1="648.50" y1="297.00" x2="648.50" y2="298.20" stroke="#1c1c1c" stroke-width="0.7"/>
<line x1="647.60" y1="297.50" x2="649.80" y2="297.50" stroke="#1c1c1c" stroke-width="0.7"/>
<text x="645.10" y="312.00" font-size="7.8" text-anchor="middle">3</text>
<line x1="616.40" y1="289.50" x2="623.60" y2="289.50" stroke="#1c1c1c" stroke-width="0.8"/>
<text x="620.00" y="288.00" font-size="8.0" text-anchor="middle" font-weight="bold">*</text>
<line x1="641.60" y1="242.50" x2="648.80" y2="242.50" stroke="#1c1c1c" stroke-width="0.8"/>
<text x="645.20" y="241.30" font-size="8.0" text-anchor="middle" font-weight="bold">*</text>
<rect x="585.30" y="236.70" width="4.8" height="4.8" fill="#1c1c1c"/>
<text x="593.90" y="241.60" font-size="7.5" text-anchor="start">WT</text>
<rect x="585.60" y="247.00" width="4.20" height="4.20" fill="#fff" stroke="#1c1c1c" stroke-width="0.8"/>
<text x="593.90" y="251.60" font-size="7.5" text-anchor="start"><tspan font-style="italic">Asc</tspan><tspan dy="-3.60" font-size="6.00" font-style="italic">&#8722;/&#8722;</tspan></text>
<text x="563.11" y="270.00" font-size="7.8" text-anchor="middle" transform="rotate(-90 563.11 270.00)">B cells (%)</text>
<text x="618.60" y="322.00" font-size="7.8" text-anchor="middle">BLC (&#181;g/ml)</text>
</svg>
</body></html>
